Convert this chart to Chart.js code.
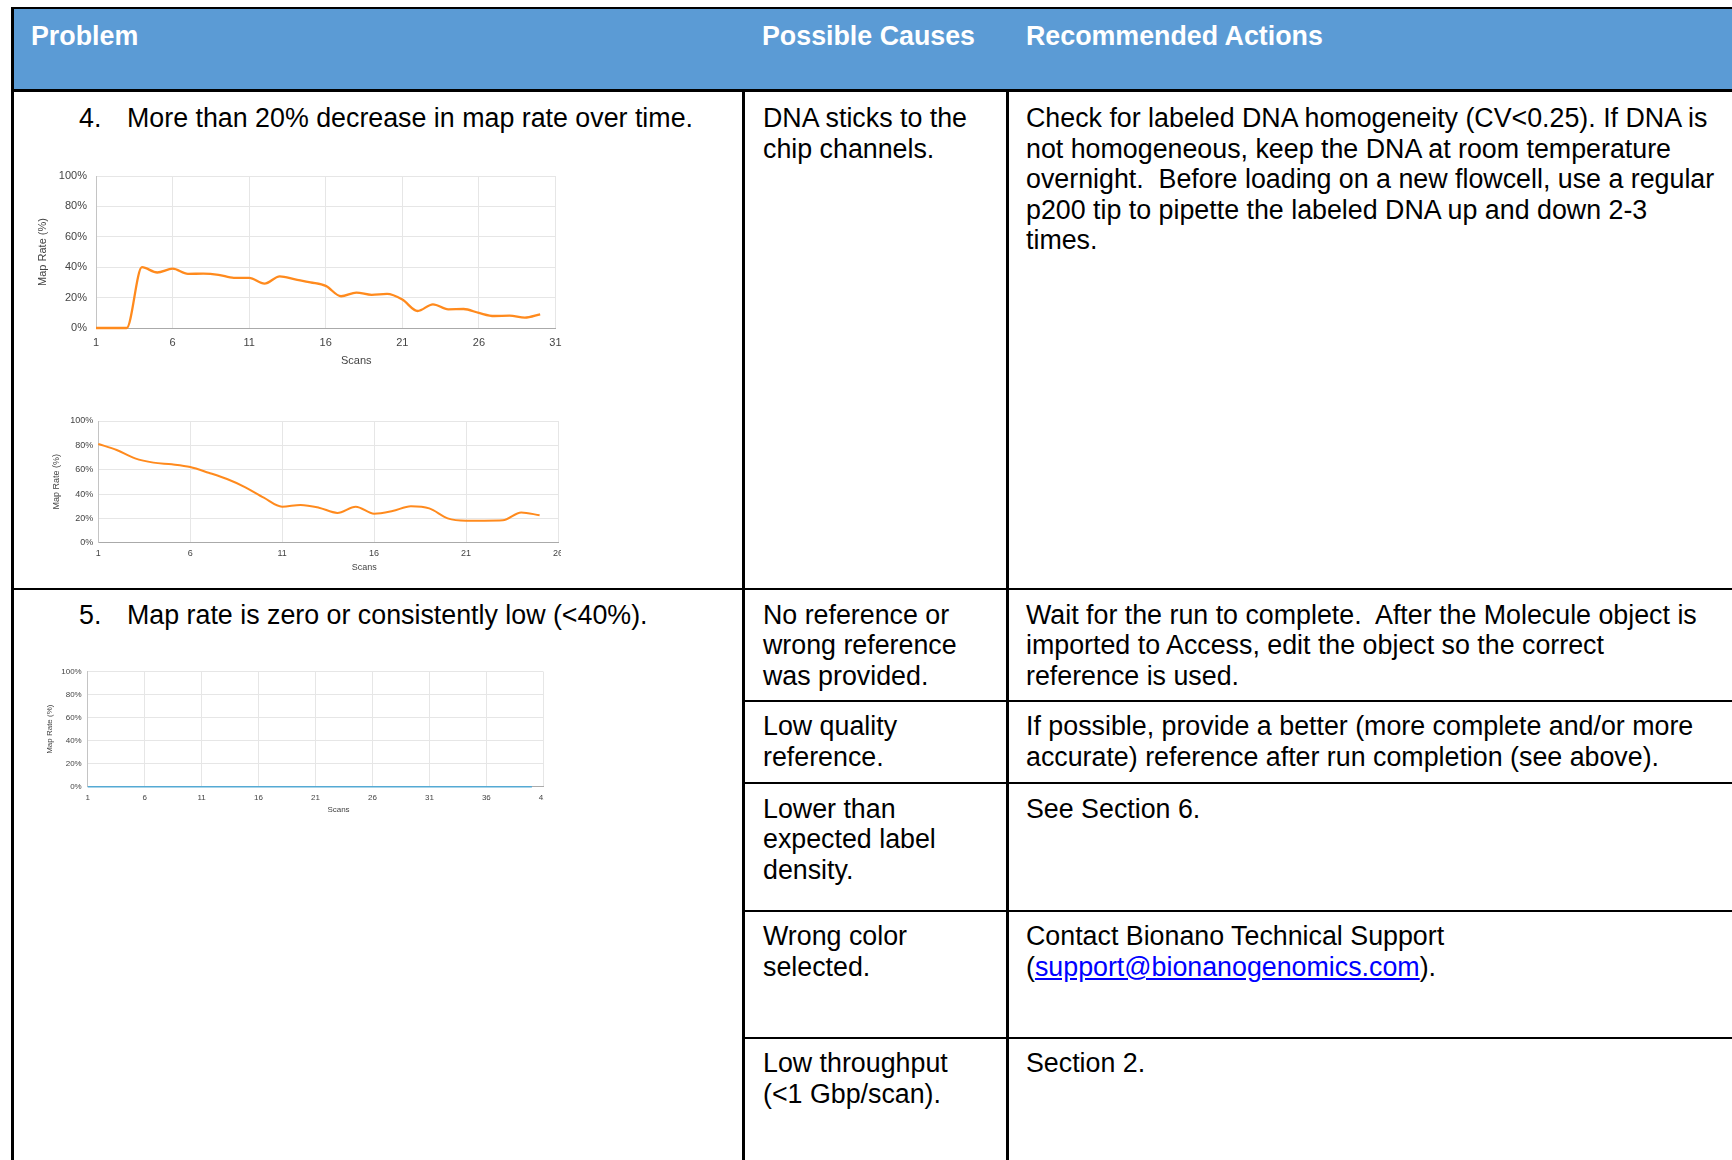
<!DOCTYPE html>
<html><head><meta charset="utf-8">
<script src="https://cdn.jsdelivr.net/npm/chart.js@4.4.1/dist/chart.umd.min.js"></script>
<style>
html,body{margin:0;padding:0;background:#fff;}
body{width:1732px;height:1160px;position:relative;overflow:hidden;font-family:"Liberation Sans",Arial,sans-serif;}
.r{position:absolute;background:#000;}
.t{position:absolute;font-size:26.8px;line-height:30.6px;white-space:pre;color:#000;}
.h{position:absolute;font-size:26.8px;line-height:30.6px;white-space:pre;color:#fff;font-weight:bold;}
.c{position:absolute;overflow:hidden;}
a{color:#0000ff;text-decoration:underline;}
</style></head>
<body>
<div class="r" style="left:14px;top:9px;width:1718px;height:80px;background:#5b9bd5"></div>
<div class="r" style="left:11px;top:7px;width:1721px;height:2px"></div>
<div class="r" style="left:11px;top:7px;width:3px;height:1153px"></div>
<div class="r" style="left:11px;top:89px;width:1721px;height:3px"></div>
<div class="r" style="left:742px;top:92px;width:3px;height:1068px"></div>
<div class="r" style="left:1006px;top:92px;width:3px;height:1068px"></div>
<div class="r" style="left:11px;top:588px;width:1721px;height:2px"></div>
<div class="r" style="left:742px;top:700px;width:990px;height:2px"></div>
<div class="r" style="left:742px;top:782px;width:990px;height:2px"></div>
<div class="r" style="left:742px;top:910px;width:990px;height:2px"></div>
<div class="r" style="left:742px;top:1037px;width:990px;height:2px"></div>

<div class="h" style="left:31px;top:20.5px">Problem</div>
<div class="h" style="left:762px;top:20.5px">Possible Causes</div>
<div class="h" style="left:1026px;top:20.5px">Recommended Actions</div>

<div class="t" style="left:79px;top:103px">4.</div>
<div class="t" style="left:127px;top:103px">More than 20% decrease in map rate over time.</div>
<div class="t" style="left:763px;top:103px">DNA sticks to the
chip channels.</div>
<div class="t" style="left:1026px;top:103px">Check for labeled DNA homogeneity (CV&lt;0.25). If DNA is
not homogeneous, keep the DNA at room temperature
overnight.  Before loading on a new flowcell, use a regular
p200 tip to pipette the labeled DNA up and down 2-3
times.</div>

<div class="t" style="left:79px;top:599.8px">5.</div>
<div class="t" style="left:127px;top:599.8px">Map rate is zero or consistently low (&lt;40%).</div>
<div class="t" style="left:763px;top:599.8px">No reference or
wrong reference
was provided.</div>
<div class="t" style="left:1026px;top:599.8px">Wait for the run to complete.  After the Molecule object is
imported to Access, edit the object so the correct
reference is used.</div>
<div class="t" style="left:763px;top:711px">Low quality
reference.</div>
<div class="t" style="left:1026px;top:711px">If possible, provide a better (more complete and/or more
accurate) reference after run completion (see above).</div>
<div class="t" style="left:763px;top:793.5px">Lower than
expected label
density.</div>
<div class="t" style="left:1026px;top:793.5px">See Section 6.</div>
<div class="t" style="left:763px;top:921.2px">Wrong color
selected.</div>
<div class="t" style="left:1026px;top:921.2px">Contact Bionano Technical Support
(<a>support@bionanogenomics.com</a>).</div>
<div class="t" style="left:763px;top:1048px">Low throughput
(&lt;1 Gbp/scan).</div>
<div class="t" style="left:1026px;top:1048px">Section 2.</div>

<div class="c" style="left:30px;top:160px;width:540px;height:215px"><canvas id="c1" width="540" height="215"></canvas></div>
<div class="c" style="left:40px;top:405px;width:521px;height:175px"><canvas id="c2" width="540" height="175"></canvas></div>
<div class="c" style="left:35px;top:655px;width:509px;height:170px"><canvas id="c3" width="530" height="170"></canvas></div>

<script>
// ---- data ----
const scans1 = [1,2,3,4,5,6,7,8,9,10,11,12,13,14,15,16,17,18,19,20,21,22,23,24,25,26,27,28,29,30];
const rate1  = [0,0,0,40,36.5,39,35.6,35.8,35,33,33,29.2,34,32,30,27.7,20.9,23.3,21.8,22.4,18.7,11.2,15.6,12.3,12.5,9.9,7.9,8.1,6.8,9];
const xTicks1 = ['1','6','11','16','21','26','31'];

const scans2 = [1,2,3,4,5,6,7,8,9,10,11,12,13,14,15,16,17,18,19,20,21,22,23,24,25];
const rate2  = [81.1,76.2,69.3,65.8,64.4,62.2,57.5,52.3,45.5,37,29.6,31,28.8,24.5,29.6,23.8,26,29.9,28.2,20,18.1,18.1,18.4,24.9,22.5];
const xTicks2 = ['1','6','11','16','21','26'];

const scans3 = [1,2,3,4,5,6,7,8,9,10,11,12,13,14,15,16,17,18,19,20,21,22,23,24,25,26,27,28,29,30,31,32,33,34,35,36,37,38,39,40];
const rate3  = [0,0,0,0,0,0,0,0,0,0,0,0,0,0,0,0,0,0,0,0,0,0,0,0,0,0,0,0,0,0,0,0,0,0,0,0,0,0,0,0];
const xTicks3 = ['1','6','11','16','21','26','31','36','41'];

const yTicks = ['0%','20%','40%','60%','80%','100%'];
const yTitle = 'Map Rate (%)';
const xTitle = 'Scans';

// ---- drawing ----
const FONT = '"Liberation Sans", Arial, sans-serif';
const scanTitle = {
  id: 'scanTitle',
  afterDraw(chart, args, o) {
    const {ctx, chartArea: a} = chart;
    ctx.save();
    ctx.font = o.size + 'px ' + FONT;
    ctx.fillStyle = o.color;
    ctx.textAlign = 'center';
    ctx.textBaseline = 'middle';
    ctx.fillText(o.text, (a.left + a.right) / 2 + o.dx, a.bottom + o.dy);
    ctx.restore();
  }
};

function makeChart(id, xs, ys, xLabels, s) {
  const xmax = Number(xLabels[xLabels.length - 1]);
  new Chart(document.getElementById(id), {
    type: 'line',
    data: { datasets: [{
      data: xs.map((x, i) => ({x: x, y: ys[i]})),
      borderColor: s.color, borderWidth: s.lw, pointRadius: 0, fill: false,
      cubicInterpolationMode: 'monotone', clip: false
    }]},
    options: {
      responsive: false, animation: false, devicePixelRatio: 1,
      layout: { padding: { left: 0, top: s.pt, right: s.pr, bottom: 0 } },
      plugins: { legend: {display: false}, tooltip: {enabled: false},
        scanTitle: { text: xTitle, dx: s.tdx, dy: s.tdy, size: s.fs, color: '#444' } },
      scales: {
        x: { type: 'linear', min: 1, max: xmax,
          ticks: { stepSize: 5, padding: s.xpad, maxRotation: 0, autoSkip: false, color: '#444',
                   font: {size: s.fs, family: FONT},
                   callback: (v) => xLabels[Math.round((v - 1) / 5)] },
          grid: { color: '#e6e6e6', drawTicks: false },
          border: { color: '#aaa' },
          afterFit: (sc) => { sc.height = s.xh; } },
        y: { min: 0, max: 100,
          ticks: { stepSize: 20, padding: s.ypad, color: '#444', font: {size: s.fs, family: FONT},
                   callback: (v) => yTicks[Math.round(v / 20)] },
          grid: { color: '#e6e6e6', drawTicks: false },
          border: { color: '#c4c4c4' },
          title: { display: true, text: yTitle, color: '#444', font: {size: s.fs, family: FONT},
                   padding: {top: s.tpad, bottom: 0} },
          afterFit: (sc) => { sc.width = s.yw; } }
      }
    },
    plugins: [scanTitle]
  });
}

makeChart('c1', scans1, rate1, xTicks1,
  {color:'#ff8a1d', lw:2.3, pt:16, pr:13, xh:47, yw:66, fs:11, xpad:8.4, ypad:9, tpad:6.4, tdx:30.5, tdy:33});
makeChart('c2', scans2, rate2, xTicks2,
  {color:'#ff8a1d', lw:2, pt:16, pr:22, xh:37.3, yw:58.3, fs:9, xpad:5.9, ypad:5, tpad:11.3, tdx:36, tdy:25});
makeChart('c3', scans3, rate3, xTicks3,
  {color:'#55aad4', lw:1.5, pt:16.7, pr:21.7, xh:38.3, yw:52.7, fs:8, xpad:6.2, ypad:6, tpad:10, tdx:23, tdy:23.3});
</script>
</body></html>
